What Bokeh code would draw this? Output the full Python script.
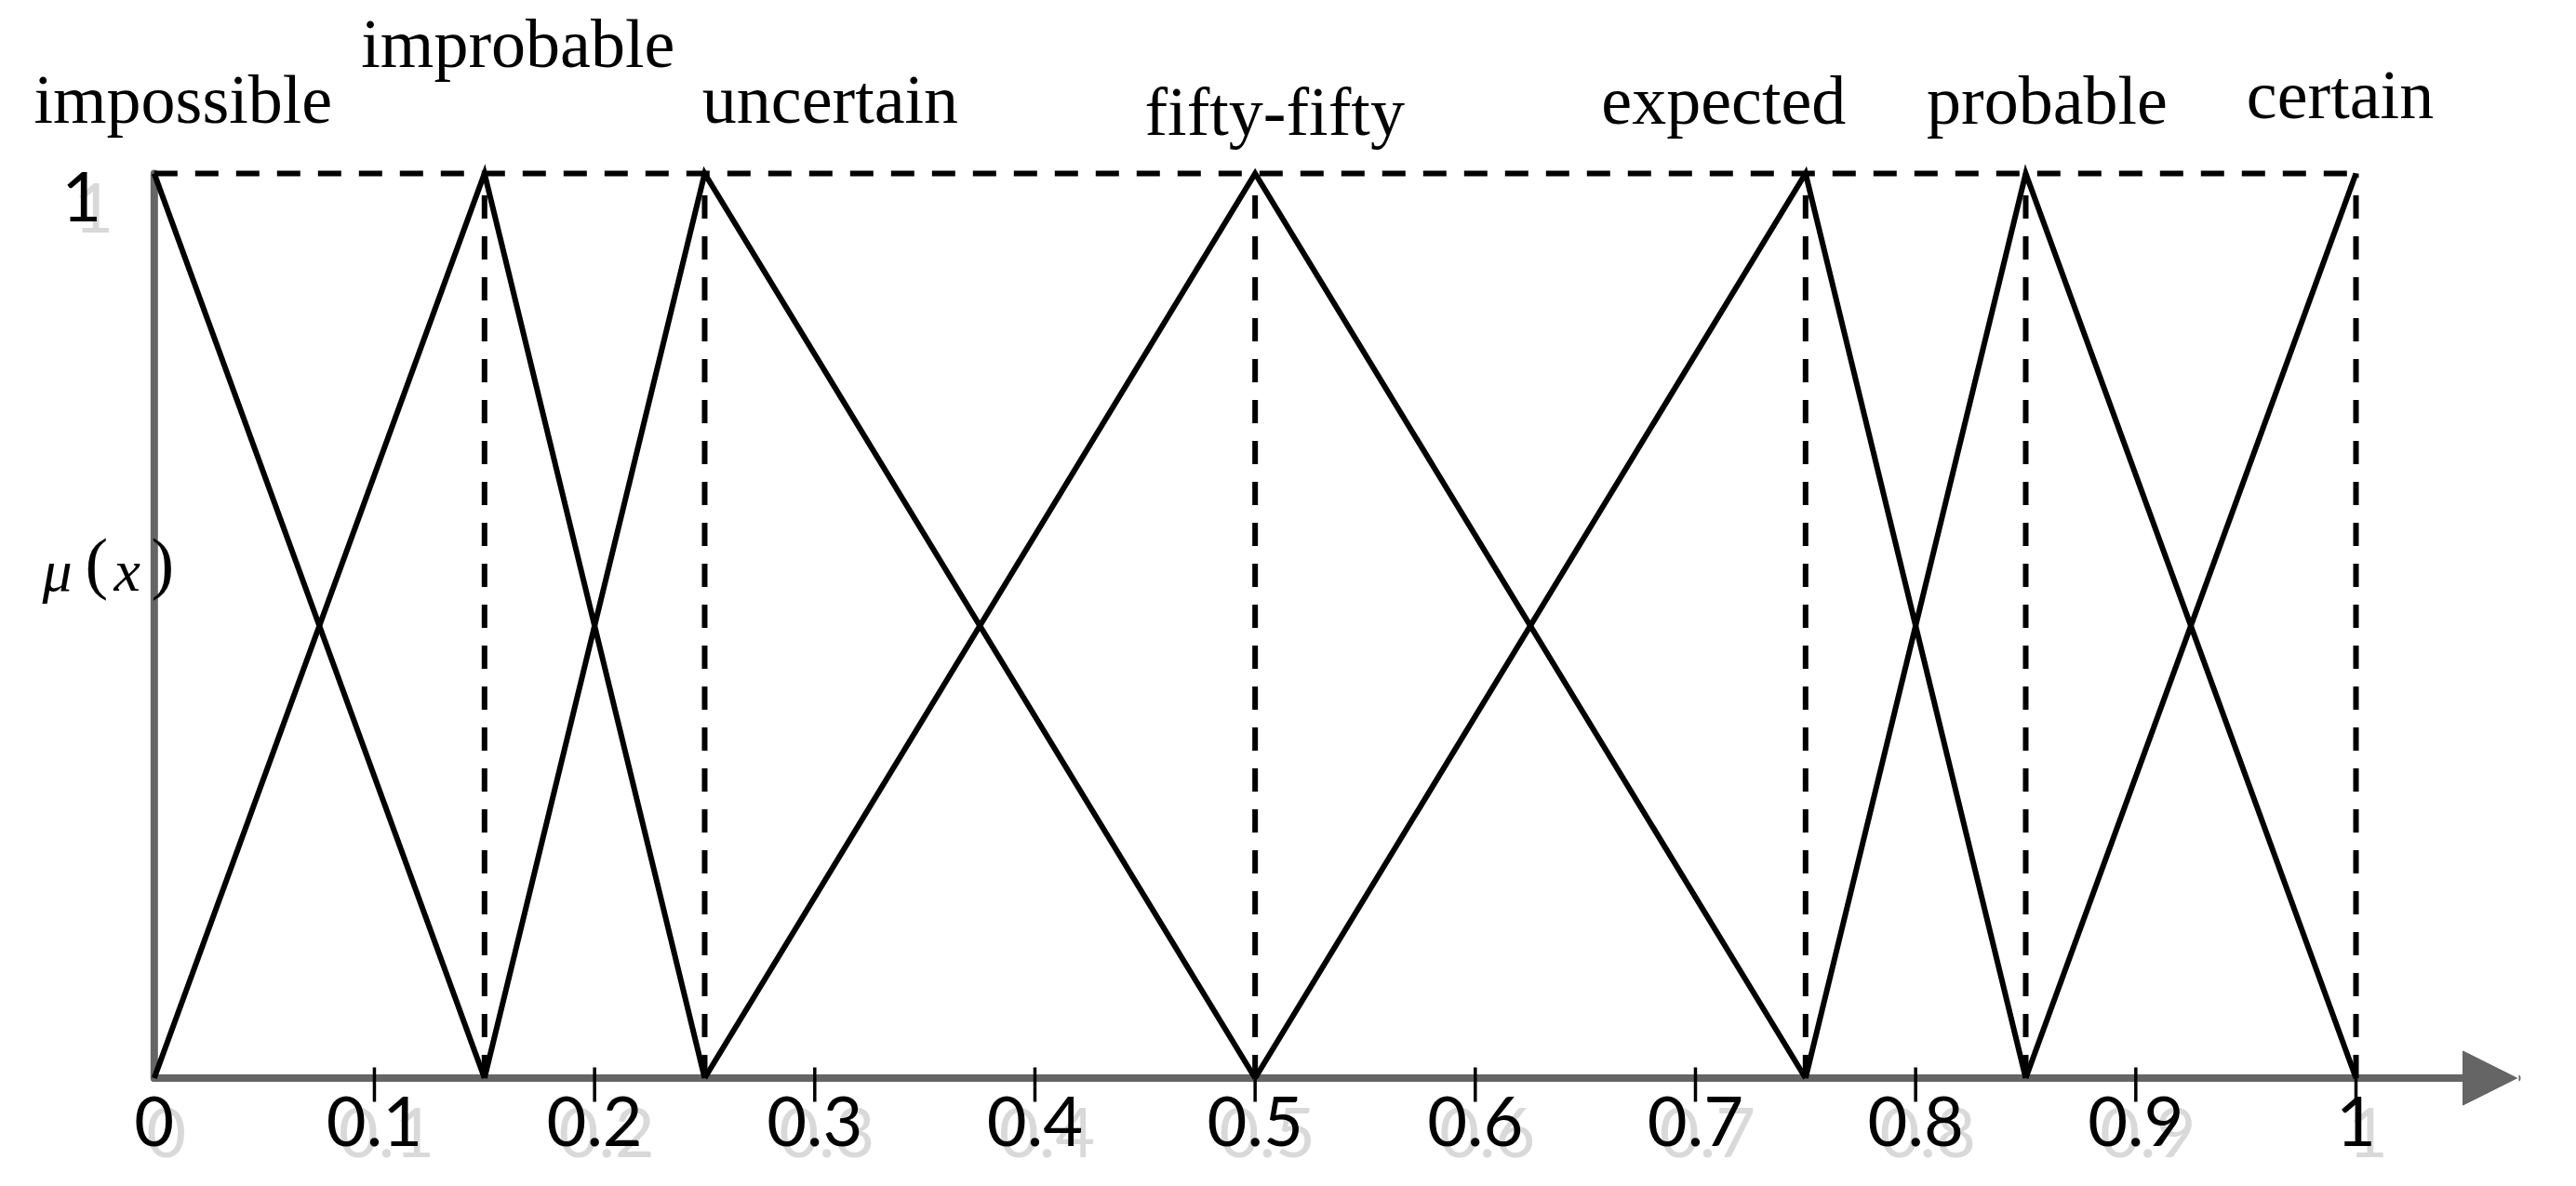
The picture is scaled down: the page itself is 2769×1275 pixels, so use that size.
from bokeh.plotting import figure
from bokeh.models import Range1d, ColumnDataSource, Label, Arrow, NormalHead
from bokeh.core.properties import value
from bokeh.embed import file_html
from bokeh.resources import INLINE

# ---------------- data ----------------
TERMS = ["impossible", "improbable", "uncertain", "fifty-fifty", "expected", "probable", "certain"]
LEFT = [0.0, 0.0, 0.15, 0.25, 0.5, 0.75, 0.85]
PEAK = [0.0, 0.15, 0.25, 0.5, 0.75, 0.85, 1.0]
RIGHT = [0.15, 0.25, 0.5, 0.75, 0.85, 1.0, 1.0]
MU_MIN, MU_MAX = 0.0, 1.0
X_TICKS = [0.0, 0.1, 0.2, 0.3, 0.4, 0.5, 0.6, 0.7, 0.8, 0.9, 1.0]
X_TICK_LABELS = ["0", "0.1", "0.2", "0.3", "0.4", "0.5", "0.6", "0.7", "0.8", "0.9", "1"]
Y_TICKS = [1.0]
Y_TICK_LABELS = ["1"]

# ---------------- layout (page pixels) ----------------
W, H = 2768, 1274
MARGIN = 0
X0_PX, XU_PX = 165.3, 2366.7      # page x of data x=0, pixels per unit x
Y0_PX, Y1_PX = 1158.5, 186.0      # page y of mu=0 and mu=1
YU_PX = Y0_PX - Y1_PX
AXIS_END_PX = 2705
TS = -27                          # text baseline correction (px)

def px2x(px):
    return (px - X0_PX) / XU_PX

def py2y(py):
    return (Y0_PX - py) / YU_PX

GRAY = "#656565"
SHADOW = "#d9d9d9"
SERIF = "Liberation Serif"
SANS = "Lato"

# label offsets (screen px) relative to each term's peak
LABEL_DX = [31, 36, 135, 21, -88, 23, -17]
LABEL_DY = [d + TS for d in (-53, -113, -53, -40, -52, -52, -58)]

p = figure(width=W, height=H,
           x_range=Range1d(px2x(MARGIN), px2x(MARGIN + W)),
           y_range=Range1d(py2y(MARGIN + H), py2y(MARGIN)),
           x_axis_location=None, y_axis_location=None,
           toolbar_location=None, output_backend="svg",
           min_border=0, outline_line_color=None,
           background_fill_color="white", border_fill_color="white")
p.grid.visible = False

# ---- axes (hand-drawn style) ----
p.line(x=[PEAK[0], PEAK[0]], y=[MU_MIN, MU_MAX], line_color=GRAY, line_width=8,
       line_cap="round")
arrow = Arrow(end=NormalHead(size=58, fill_color=GRAY, line_color=GRAY, line_width=1),
              x_start=X_TICKS[0], y_start=MU_MIN, x_end=px2x(AXIS_END_PX), y_end=MU_MIN,
              line_color=GRAY, line_width=8, line_cap="round", level="underlay")
p.add_layout(arrow)

# tick marks
p.segment(x0=X_TICKS[1:], y0=[py2y(Y0_PX - 11.5)] * (len(X_TICKS) - 1),
          x1=X_TICKS[1:], y1=[py2y(Y0_PX + 25.5)] * (len(X_TICKS) - 1),
          line_color="black", line_width=3.5)

# ---- dashed guide lines ----
vx = [m for m in PEAK if m > X_TICKS[0]]
p.segment(x0=vx, y0=[MU_MIN] * len(vx), x1=vx, y1=[MU_MAX] * len(vx),
          line_color="black", line_width=6, line_dash="25 19")
p.line(x=[min(PEAK), max(PEAK)], y=[MU_MAX, MU_MAX], line_color="black",
       line_width=6, line_dash="25 19")

# ---- triangular membership functions ----
xs, ys = [], []
for a, m, b in zip(LEFT, PEAK, RIGHT):
    lx, ly = [], []
    if a < m:
        lx.append(a); ly.append(MU_MIN)
    lx.append(m); ly.append(MU_MAX)
    if b > m:
        lx.append(b); ly.append(MU_MIN)
    xs.append(lx); ys.append(ly)
p.multi_line(xs=xs, ys=ys, line_color="black", line_width=6, line_join="miter")

# ---- term labels ----
src = ColumnDataSource(dict(x=PEAK, y=[MU_MAX] * len(PEAK), t=TERMS, dx=LABEL_DX, dy=LABEL_DY))
p.text(x="x", y="y", text="t", x_offset="dx", y_offset="dy", source=src,
       text_font=value(SERIF), text_font_size=value("74px"), text_color="black",
       text_align="center", text_baseline="alphabetic")

# ---- tick labels with shadow ----
n = len(X_TICKS)
for color, dx, dy in ((SHADOW, 13, 85.5 + TS), ("black", 0, 73.5 + TS)):
    p.text(x=X_TICKS, y=[MU_MIN] * n, text=X_TICK_LABELS, x_offset=dx, y_offset=dy,
           text_font=value(SANS), text_font_size=value("74px"), text_color=color,
           text_align="center", text_baseline="alphabetic")
    p.text(x=[X_TICKS[0]] * len(Y_TICKS), y=Y_TICKS, text=Y_TICK_LABELS,
           x_offset=-78 + dx, y_offset=52 + (dy - 73.5),
           text_font=value(SANS), text_font_size=value("74px"), text_color=color,
           text_align="center", text_baseline="alphabetic")

# ---- y title  mu(x) ----
for txt, left, base, size, style in (("μ", 45, 640, "64px", "italic"),
                                     ("(", 91, 631, "74px", "normal"),
                                     ("x", 122, 640, "64px", "italic"),
                                     (")", 162, 631, "74px", "normal")):
    p.add_layout(Label(x=px2x(left), y=py2y(base - 27), text=txt, text_font=SERIF,
                       text_font_size=size, text_font_style=style, text_color="black",
                       text_align="left", text_baseline="alphabetic"))

open("out.html", "w").write(file_html(p, INLINE))
